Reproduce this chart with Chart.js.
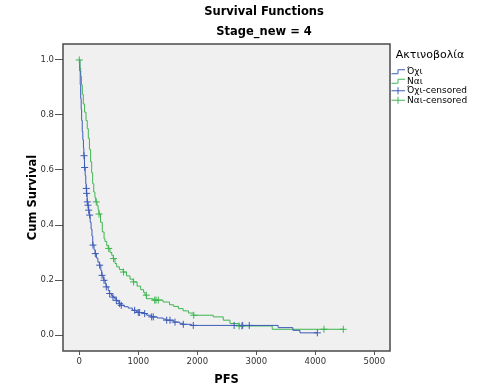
<!DOCTYPE html>
<html>
<head>
<meta charset="utf-8">
<script src="https://cdn.jsdelivr.net/npm/chart.js@4"></script>
<style>
  body { margin: 0; background: #fff; }
  #box { width: 490px; height: 390px; }
</style>
</head>
<body>
<div id="box"><canvas id="chartSurv" width="490" height="390"></canvas></div>
<script>
// categories
var groupNames = ["Όχι", "Ναι"];
var censorNames = ["Όχι-censored", "Ναι-censored"];
var legendTitle = "Ακτινοβολία";

// Όχι (blue) step curve
var noTimes = [0, 8, 16, 24, 32, 40, 50, 60, 70, 78, 88, 100, 110, 118, 124, 133, 145, 157, 170, 185, 200, 215, 228, 250, 268, 290, 315, 340, 365, 380, 405, 415, 440, 455, 490, 510, 545, 568, 600, 625, 655, 680, 705, 760, 830, 900, 960, 990, 1100, 1142, 1220, 1320, 1420, 1470, 1600, 1700, 1750, 1900, 3370, 3620, 3740, 4035];
var noSurv = [1.0, 0.96, 0.91, 0.86, 0.82, 0.78, 0.74, 0.71, 0.68, 0.652, 0.609, 0.58, 0.55, 0.533, 0.515, 0.484, 0.472, 0.454, 0.436, 0.41, 0.385, 0.36, 0.327, 0.31, 0.296, 0.28, 0.265, 0.254, 0.235, 0.217, 0.208, 0.199, 0.186, 0.175, 0.162, 0.151, 0.144, 0.138, 0.132, 0.126, 0.12, 0.114, 0.108, 0.103, 0.098, 0.09, 0.086, 0.082, 0.078, 0.072, 0.066, 0.062, 0.058, 0.054, 0.047, 0.043, 0.039, 0.035, 0.027, 0.017, 0.008, 0.008];

// Ναι (green) step curve
var yesTimes = [0, 12, 25, 38, 51, 68, 90, 114, 135, 153, 172, 192, 210, 227, 245, 265, 278, 300, 320, 334, 360, 390, 420, 436, 465, 492, 520, 550, 576, 605, 634, 680, 746, 800, 860, 915, 980, 1040, 1090, 1114, 1140, 1250, 1420, 1530, 1600, 1680, 1760, 1850, 1932, 2270, 2440, 2554, 2700, 3270, 4475];
var yesSurv = [1.0, 0.97, 0.94, 0.91, 0.875, 0.84, 0.81, 0.78, 0.75, 0.715, 0.675, 0.63, 0.59, 0.55, 0.52, 0.5, 0.484, 0.47, 0.455, 0.44, 0.41, 0.375, 0.35, 0.34, 0.325, 0.315, 0.3, 0.29, 0.278, 0.26, 0.248, 0.238, 0.229, 0.215, 0.203, 0.193, 0.178, 0.165, 0.155, 0.145, 0.132, 0.127, 0.12, 0.11, 0.104, 0.096, 0.088, 0.08, 0.072, 0.066, 0.054, 0.042, 0.033, 0.021, 0.021];

// censored cases
var noCensT = [80, 91, 119, 125, 136, 147, 159, 176, 232, 272, 345, 385, 419, 458, 515, 571, 628, 684, 712, 938, 1000, 1023, 1108, 1227, 1254, 1481, 1537, 1622, 1763, 1932, 2624, 2769, 2881, 4035];
var noCensS = [0.652, 0.609, 0.533, 0.515, 0.484, 0.472, 0.454, 0.436, 0.327, 0.296, 0.254, 0.217, 0.199, 0.175, 0.151, 0.138, 0.126, 0.114, 0.108, 0.09, 0.082, 0.082, 0.078, 0.066, 0.066, 0.054, 0.054, 0.047, 0.039, 0.035, 0.035, 0.035, 0.035, 0.008];
var yesCensT = [0, 288, 334, 498, 580, 750, 920, 1136, 1278, 1300, 1339, 1940, 2710, 2752, 4147, 4475];
var yesCensS = [1.0, 0.484, 0.44, 0.315, 0.278, 0.229, 0.193, 0.145, 0.127, 0.127, 0.127, 0.072, 0.033, 0.033, 0.021, 0.021];

// tick labels
var xTicks = [0, 1000, 2000, 3000, 4000, 5000];
var yTicks = [0.0, 0.2, 0.4, 0.6, 0.8, 1.0];

var blue = "#3d5cb8";
var green = "#3fb650";

function toPoints(xs, ys) {
    return xs.map(function (x, i) { return { x: x, y: ys[i] }; });
}

function makeIcon(color, kind) {
    var c = document.createElement("canvas");
    c.width = 16;
    c.height = 9;
    var g = c.getContext("2d");
    g.strokeStyle = color;
    g.lineWidth = 1;
    g.beginPath();
    if (kind === "step") {
        g.moveTo(3, 6.5);
        g.lineTo(9.5, 6.5);
        g.lineTo(9.5, 2.5);
        g.lineTo(16, 2.5);
    } else {
        g.moveTo(3, 4.5);
        g.lineTo(16, 4.5);
        g.moveTo(9.5, 1);
        g.lineTo(9.5, 8);
    }
    g.stroke();
    return c;
}

var legendIcons = [
    makeIcon(blue, "step"),
    makeIcon(green, "step"),
    makeIcon(blue, "cross"),
    makeIcon(green, "cross")
];

Chart.defaults.font.family = "'DejaVu Sans', sans-serif";
Chart.defaults.color = "#000";

var framePlugin = {
    id: "framePlugin",
    beforeLayout: function (chart) {
        var lg = chart.legend;
        if (lg && !lg._fixedWidth) {
            var fit = lg.fit;
            lg.fit = function () {
                fit.call(this);
                this.width = 80;
            };
            lg._fixedWidth = true;
        }
    },
    afterLayout: function (chart) {
        // SPSS centres the titles a bit to the right
        chart.boxes.forEach(function (b) {
            if (b.options && typeof b.options.text === "string" && b.position === "top") {
                b.left = 58;
            }
        });
    },
    beforeDraw: function (chart) {
        var a = chart.chartArea;
        var ctx = chart.ctx;
        ctx.save();
        ctx.fillStyle = "#f0f0f0";
        ctx.fillRect(a.left, a.top, a.right - a.left, a.bottom - a.top);
        ctx.restore();
    },
    afterDraw: function (chart) {
        var a = chart.chartArea;
        var ctx = chart.ctx;
        ctx.save();
        ctx.strokeStyle = "#4a4a4a";
        ctx.lineWidth = 1.5;
        ctx.strokeRect(a.left, a.top, a.right - a.left, a.bottom - a.top);
        ctx.restore();
    }
};

var chart = new Chart(document.getElementById("chartSurv"), {
    type: "line",
    data: {
        datasets: [
            {
                label: groupNames[0],
                data: toPoints(noTimes, noSurv),
                borderColor: blue,
                borderWidth: 1,
                stepped: "before",
                pointRadius: 0,
                fill: false,
                order: 2
            },
            {
                label: groupNames[1],
                data: toPoints(yesTimes, yesSurv),
                borderColor: green,
                borderWidth: 1,
                stepped: "before",
                pointRadius: 0,
                fill: false,
                order: 3
            },
            {
                type: "scatter",
                label: censorNames[0],
                data: toPoints(noCensT, noCensS),
                borderColor: blue,
                backgroundColor: blue,
                pointStyle: "cross",
                pointRadius: 3.5,
                pointBorderWidth: 1,
                order: 0
            },
            {
                type: "scatter",
                label: censorNames[1],
                data: toPoints(yesCensT, yesCensS),
                borderColor: green,
                backgroundColor: green,
                pointStyle: "cross",
                pointRadius: 3.5,
                pointBorderWidth: 1,
                order: 1
            }
        ]
    },
    options: {
        responsive: false,
        animation: false,
        events: [],
        layout: { padding: { top: 0, left: 0, bottom: 0, right: 20 } },
        plugins: {
            title: {
                display: true,
                text: "Survival Functions",
                font: { size: 11.5, weight: "bold" },
                color: "#000",
                padding: { top: 5, bottom: 6 }
            },
            subtitle: {
                display: true,
                text: "Stage_new = 4",
                font: { size: 11.5, weight: "bold" },
                color: "#000",
                padding: { top: 0, bottom: 5.4 }
            },
            legend: {
                position: "right",
                align: "start",
                fullSize: false,
                title: {
                    display: true,
                    text: legendTitle,
                    font: { size: 11 },
                    color: "#000",
                    position: "center",
                    padding: { top: 5.5, bottom: 4 }
                },
                labels: {
                    usePointStyle: true,
                    pointStyleWidth: 12,
                    font: { size: 9 },
                    color: "#000",
                    padding: 0.5,
                    sort: function (a, b) { return a.datasetIndex - b.datasetIndex; },
                    generateLabels: function (ch) {
                        var items = Chart.defaults.plugins.legend.labels.generateLabels(ch);
                        items.forEach(function (it) {
                            it.pointStyle = legendIcons[it.datasetIndex];
                        });
                        return items;
                    }
                }
            },
            tooltip: { enabled: false }
        },
        scales: {
            x: {
                type: "linear",
                min: -276,
                max: 5266,
                afterBuildTicks: function (s) {
                    s.ticks = xTicks.map(function (v) { return { value: v }; });
                },
                afterFit: function (s) { s.height = 39; },
                ticks: {
                    font: { size: 8.5 },
                    color: "#333",
                    padding: 2,
                    maxRotation: 0,
                    callback: function (v) { return String(v); }
                },
                grid: { drawOnChartArea: false, tickLength: 4, color: "#555" },
                border: { display: false },
                title: {
                    display: true,
                    text: "PFS",
                    font: { size: 11.5, weight: "bold" },
                    color: "#000",
                    padding: { top: 0, bottom: 3 }
                }
            },
            y: {
                type: "linear",
                min: -0.058,
                max: 1.058,
                afterBuildTicks: function (s) {
                    s.ticks = yTicks.map(function (v) { return { value: v }; });
                },
                afterFit: function (s) { s.width = 63; },
                ticks: {
                    font: { size: 8.5 },
                    color: "#333",
                    padding: 1,
                    callback: function (v) { return Number(v).toFixed(1); }
                },
                grid: { drawOnChartArea: false, tickLength: 8, color: "#555" },
                border: { display: false },
                title: {
                    display: true,
                    text: "Cum Survival",
                    font: { size: 11.5, weight: "bold" },
                    color: "#000",
                    padding: { top: 26, bottom: 0 }
                }
            }
        }
    },
    plugins: [framePlugin]
});
</script>
</body>
</html>
